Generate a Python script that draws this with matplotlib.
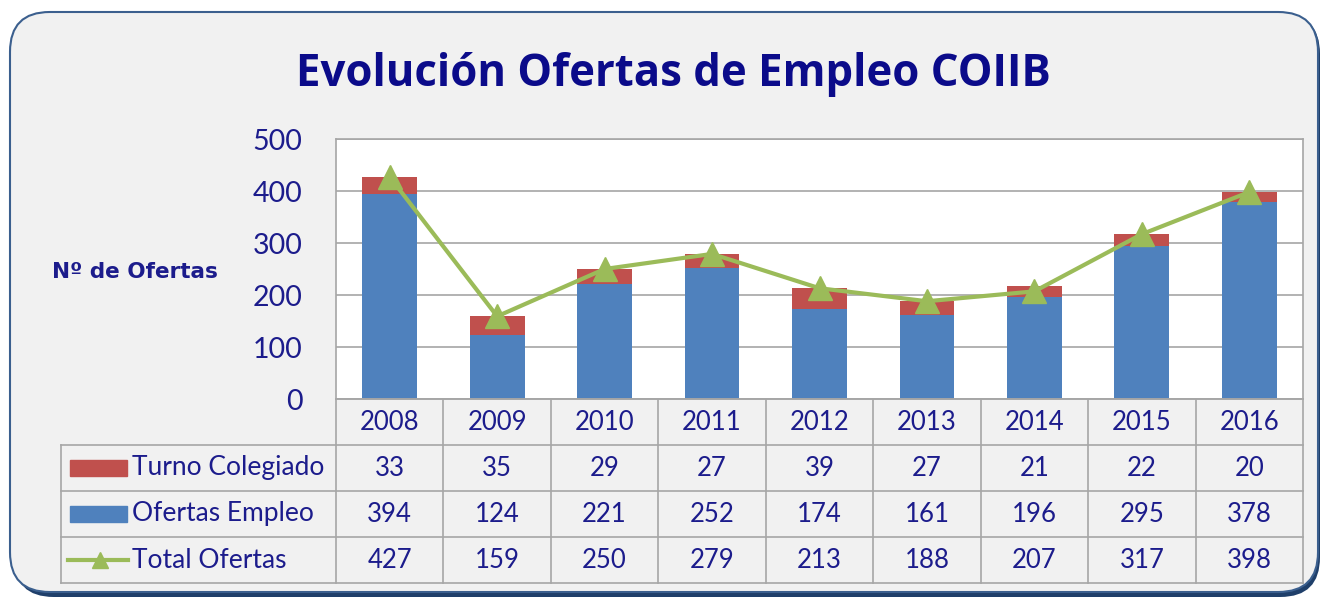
import numpy as np
import matplotlib.pyplot as plt
from matplotlib.patches import FancyBboxPatch, Rectangle
from matplotlib.lines import Line2D
import matplotlib.transforms as mtransforms

years = ['2008', '2009', '2010', '2011', '2012', '2013', '2014', '2015', '2016']
turno = [33, 35, 29, 27, 39, 27, 21, 22, 20]
ofertas = [394, 124, 221, 252, 174, 161, 196, 295, 378]
total = [427, 159, 250, 279, 213, 188, 207, 317, 398]
row_names = ['Turno Colegiado', 'Ofertas Empleo', 'Total Ofertas']

BLUE = '#4f81bd'
RED = '#c0504d'
GREEN = '#9bbb59'
NAVY = '#1c1c8c'
GRID = '#a6a6a6'
BG = '#f1f1f1'

W, H = 1326, 602
fig = plt.figure(figsize=(W / 100, H / 100), dpi=100)
fig.patch.set_facecolor('white')

# rounded frame with shadow
shadow = FancyBboxPatch((14 / W, 5 / H), 1306 / W, 583 / H,
                        boxstyle='round,pad=0,rounding_size=0.03',
                        transform=fig.transFigure, fc='#1f3f6a', ec='none',
                        mutation_aspect=W / H, zorder=0)
box = FancyBboxPatch((10 / W, 10 / H), 1308 / W, 580 / H,
                     boxstyle='round,pad=0,rounding_size=0.03',
                     transform=fig.transFigure, fc=BG, ec='#3b5f8e', lw=1.5,
                     mutation_aspect=W / H, zorder=1)
fig.patches.extend([shadow, box])

fig.text(673 / W, 1 - 86 / H, 'Evolución Ofertas de Empleo COIIB', ha='center', va='baseline',
         fontsize=31.5, fontweight='bold', color='#0b0b8a', family='Open Sans')
fig.text(52 / W, 1 - 272 / H, 'Nº de Ofertas', ha='left', va='center',
         fontsize=15.5, fontweight='bold', color=NAVY, family='DejaVu Sans')

ax = fig.add_axes([336 / W, 1 - 399 / H, 967 / W, 260 / H], zorder=2)
ax.set_facecolor('white')
x = np.arange(len(years))
ax.bar(x, ofertas, width=0.51, color=BLUE, zorder=2)
ax.bar(x, turno, width=0.51, bottom=ofertas, color=RED, zorder=2)
ax.plot(x, total, color=GREEN, lw=3, marker='^', ms=17, zorder=3)
ax.set_xlim(-0.5, len(years) - 0.5)
ax.set_ylim(0, 500)
ax.set_yticks(range(0, 501, 100))
ax.yaxis.grid(True, color=GRID, lw=1.2)
ax.set_axisbelow(True)
ax.set_xticks([])
ax.tick_params(axis='y', length=0, pad=24, labelsize=20.5, labelcolor=NAVY)
for lab in ax.get_yticklabels():
    lab.set_family('Lato')
for s in ax.spines.values():
    s.set_color(GRID)
    s.set_linewidth(1.2)

# data table under the axis
trans = mtransforms.blended_transform_factory(ax.transData, ax.transAxes)
rows_px = [399, 445, 491, 537, 583]
ry = [(399 - p) / 260 for p in rows_px]
left = (61 - 336) / 967 * 9 - 0.5
kw = dict(color=GRID, lw=1.2, transform=trans, clip_on=False, zorder=2)
for i in range(len(years) + 1):
    ax.add_line(Line2D([i - 0.5, i - 0.5], [ry[0], ry[-1]], **kw))
ax.add_line(Line2D([left, left], [ry[1], ry[-1]], **kw))
ax.add_line(Line2D([-0.5, 8.5], [ry[0], ry[0]], **kw))
for y in ry[1:]:
    ax.add_line(Line2D([left, 8.5], [y, y], **kw))

txt = dict(ha='center', va='center', fontsize=18.5, color=NAVY, family='Lato',
           transform=trans, clip_on=False)
for i, yr in enumerate(years):
    ax.text(i, (ry[0] + ry[1]) / 2, yr, **txt)
for r, vals in enumerate([turno, ofertas, total]):
    yc = (ry[r + 1] + ry[r + 2]) / 2
    for i, v in enumerate(vals):
        ax.text(i, yc, str(v), **txt)

# row headers with legend keys
sx = 9 / 967
key_x0 = left + 9 * sx
key_w = 57 * sx
for r, name in enumerate(row_names):
    yc = (ry[r + 1] + ry[r + 2]) / 2
    if r < 2:
        ax.add_patch(Rectangle((key_x0, yc - 0.03), key_w, 0.06, transform=trans,
                               color=[RED, BLUE][r], clip_on=False, zorder=3))
    else:
        ax.add_line(Line2D([key_x0 - 2 * sx, key_x0 + key_w + sx], [yc, yc], color=GREEN, lw=3,
                           transform=trans, clip_on=False, zorder=3))
        ax.add_line(Line2D([key_x0 + key_w / 2 + sx], [yc], color=GREEN, marker='^', ms=12,
                           transform=trans, clip_on=False, zorder=3))
    ax.text(key_x0 + key_w + 5 * sx, yc, name, ha='left', va='center', fontsize=19,
            color=NAVY, family='Lato', transform=trans, clip_on=False)

fig.savefig('out.png', dpi=100)
